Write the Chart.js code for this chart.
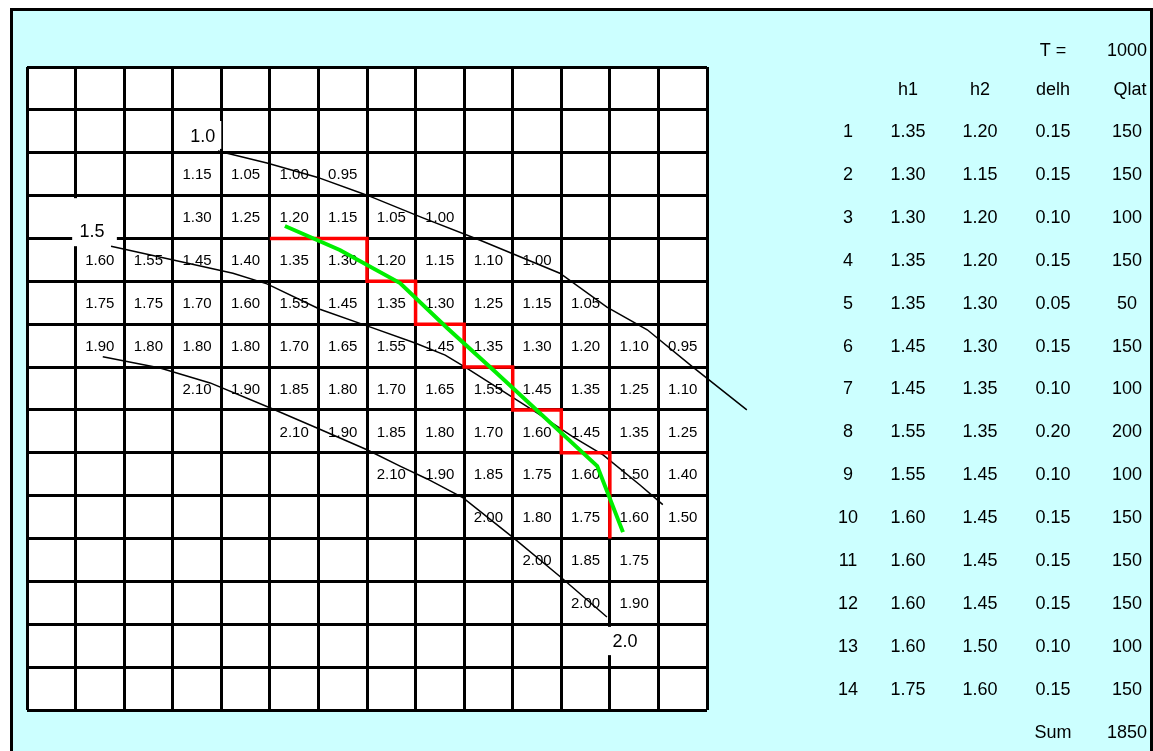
<!DOCTYPE html>
<html>
<head>
<meta charset="utf-8">
<title>Flow net – seepage per segment</title>
<script src="https://cdn.jsdelivr.net/npm/chart.js@4/dist/chart.umd.min.js"></script>
<style>
  html, body { margin: 0; padding: 0; background: #ffffff; }
  #wrap { width: 1153px; height: 751px; }
</style>
</head>
<body>
<div id="wrap"><canvas id="net" width="1153" height="751"></canvas></div>
<script>
// ---- grid size (cells) ----
const COLS = 14;
const ROWS = 15;

// ---- head values written in the cells, one array per grid row ----
const headGrid = [
  [],
  [],
  [null, null, null, 1.15, 1.05, 1.00, 0.95],
  [null, null, null, 1.30, 1.25, 1.20, 1.15, 1.05, 1.00],
  [null, 1.60, 1.55, 1.45, 1.40, 1.35, 1.30, 1.20, 1.15, 1.10, 1.00],
  [null, 1.75, 1.75, 1.70, 1.60, 1.55, 1.45, 1.35, 1.30, 1.25, 1.15, 1.05],
  [null, 1.90, 1.80, 1.80, 1.80, 1.70, 1.65, 1.55, 1.45, 1.35, 1.30, 1.20, 1.10, 0.95],
  [null, null, null, 2.10, 1.90, 1.85, 1.80, 1.70, 1.65, 1.55, 1.45, 1.35, 1.25, 1.10],
  [null, null, null, null, null, 2.10, 1.90, 1.85, 1.80, 1.70, 1.60, 1.45, 1.35, 1.25],
  [null, null, null, null, null, null, null, 2.10, 1.90, 1.85, 1.75, 1.60, 1.50, 1.40],
  [null, null, null, null, null, null, null, null, null, 2.00, 1.80, 1.75, 1.60, 1.50],
  [null, null, null, null, null, null, null, null, null, null, 2.00, 1.85, 1.75],
  [null, null, null, null, null, null, null, null, null, null, null, 2.00, 1.90],
  [],
  []
];

// ---- contour lines (x = column, y = row, in cell units) ----
const contour10 = [
  {x: 3.93, y: 1.96}, {x: 4.94, y: 2.24}, {x: 5.97, y: 2.57}, {x: 7.00, y: 2.99},
  {x: 8.15, y: 3.52}, {x: 9.33, y: 4.04}, {x: 10.97, y: 4.81}, {x: 11.94, y: 5.60},
  {x: 12.77, y: 6.13}, {x: 13.71, y: 7.00}, {x: 14.82, y: 8.00}
];
const contour15 = [
  {x: 1.73, y: 4.18}, {x: 3.29, y: 4.57}, {x: 4.24, y: 4.81}, {x: 4.94, y: 5.06},
  {x: 6.03, y: 5.65}, {x: 7.00, y: 6.04}, {x: 7.99, y: 6.44}, {x: 8.61, y: 6.72},
  {x: 9.02, y: 7.00}, {x: 10.50, y: 8.07}, {x: 11.24, y: 8.63}, {x: 11.86, y: 9.05},
  {x: 12.62, y: 9.75}, {x: 13.09, y: 10.21}
];
const contour20 = [
  {x: 1.56, y: 6.76}, {x: 2.74, y: 7.02}, {x: 3.77, y: 7.37}, {x: 5.00, y: 7.95},
  {x: 5.97, y: 8.42}, {x: 7.00, y: 8.93}, {x: 7.68, y: 9.31}, {x: 8.24, y: 9.61},
  {x: 8.98, y: 10.05}, {x: 9.99, y: 10.96}, {x: 11.01, y: 11.92}, {x: 11.94, y: 12.83}
];
const contourLabels = ['1.0', '1.5', '2.0'];

// ---- stepped boundary along cell edges (red) ----
const stepPath = [
  {x: 5, y: 4}, {x: 7, y: 4}, {x: 7, y: 5}, {x: 8, y: 5}, {x: 8, y: 6},
  {x: 9, y: 6}, {x: 9, y: 7}, {x: 10, y: 7}, {x: 10, y: 8}, {x: 11, y: 8},
  {x: 11, y: 9}, {x: 12, y: 9}, {x: 12, y: 11}
];

// ---- smoothed boundary (green) ----
const smoothPath = [
  {x: 5.31, y: 3.71}, {x: 6.44, y: 4.27}, {x: 7.68, y: 5.04}, {x: 8.65, y: 6.09},
  {x: 9.64, y: 7.11}, {x: 11.74, y: 9.31}, {x: 12.27, y: 10.85}
];

// ---- segment table ----
const T_VALUE = 1000;
const segNo = [1, 2, 3, 4, 5, 6, 7, 8, 9, 10, 11, 12, 13, 14];
const h1 = [1.35, 1.30, 1.30, 1.35, 1.35, 1.45, 1.45, 1.55, 1.55, 1.60, 1.60, 1.60, 1.60, 1.75];
const h2 = [1.20, 1.15, 1.20, 1.20, 1.30, 1.30, 1.35, 1.35, 1.45, 1.45, 1.45, 1.45, 1.50, 1.60];
const delh = [0.15, 0.15, 0.10, 0.15, 0.05, 0.15, 0.10, 0.20, 0.10, 0.15, 0.15, 0.15, 0.10, 0.15];
const qlat = [150, 150, 100, 150, 50, 150, 100, 200, 100, 150, 150, 150, 100, 150];
const qSum = 1850;
const tableHeaders = ['h1', 'h2', 'delh', 'Qlat'];

// ---- drawing styles / layout ----
const FONT = '"Liberation Sans", Arial, Helvetica, sans-serif';
const PANEL_BG = '#ccffff';
const PLOT_BOX = {left: 27, top: 67, right: 707, bottom: 710};
// white boxes behind the contour labels: [x0, y0, x1, y1, textX, textY] in cell units
const labelBoxes = [
  [3.21, 1.26, 4.00, 1.91, 3.62, 1.61],
  [0.93, 3.06, 1.85, 4.18, 1.34, 3.83],
  [11.94, 13.06, 12.72, 13.72, 12.31, 13.39]
];
// table column centres (px) and row baselines
const tableCols = [848, 908, 980, 1053, 1127];

const panelPlugin = {
  id: 'panel',
  beforeDraw(chart) {
    const ctx = chart.ctx;
    const W = chart.width, H = chart.height;
    ctx.save();
    ctx.fillStyle = '#ffffff';
    ctx.fillRect(0, 0, W, H);
    ctx.fillStyle = PANEL_BG;
    ctx.fillRect(10, 8, W - 10, H - 8);
    ctx.strokeStyle = '#000000';
    ctx.lineWidth = 3;
    ctx.beginPath();
    ctx.moveTo(11.5, H + 5);
    ctx.lineTo(11.5, 9.5);
    ctx.lineTo(W - 1.5, 9.5);
    ctx.lineTo(W - 1.5, H + 5);
    ctx.stroke();
    const a = chart.chartArea;
    ctx.fillStyle = '#ffffff';
    ctx.fillRect(a.left, a.top, a.right - a.left, a.bottom - a.top);
    ctx.restore();
  },
  beforeDatasetsDraw(chart) {
    const ctx = chart.ctx;
    const xs = chart.scales.x, ys = chart.scales.y;
    ctx.save();
    // head values in the cells
    ctx.fillStyle = '#000000';
    ctx.font = '15px ' + FONT;
    ctx.textAlign = 'center';
    ctx.textBaseline = 'middle';
    headGrid.forEach((row, r) => {
      row.forEach((v, c) => {
        if (v === null || v === undefined) return;
        ctx.fillText(v.toFixed(2), xs.getPixelForValue(c + 0.5), ys.getPixelForValue(r + 0.5) + 1);
      });
    });
    // contour labels on white boxes
    ctx.font = '18px ' + FONT;
    labelBoxes.forEach((b, i) => {
      const x0 = xs.getPixelForValue(b[0]), x1 = xs.getPixelForValue(b[2]);
      const y0 = ys.getPixelForValue(b[1]), y1 = ys.getPixelForValue(b[3]);
      ctx.fillStyle = '#ffffff';
      ctx.fillRect(x0, y0, x1 - x0, y1 - y0);
      ctx.fillStyle = '#000000';
      ctx.fillText(contourLabels[i], xs.getPixelForValue(b[4]), ys.getPixelForValue(b[5]) + 1);
    });
    ctx.restore();
  },
  afterDraw(chart) {
    const ctx = chart.ctx;
    const ys = chart.scales.y;
    ctx.save();
    ctx.fillStyle = '#000000';
    ctx.font = '18px ' + FONT;
    ctx.textAlign = 'center';
    ctx.textBaseline = 'middle';
    const rowY = (r) => ys.getPixelForValue(r + 0.5) + 1;
    ctx.fillText('T =', tableCols[3], 51);
    ctx.fillText(String(T_VALUE), tableCols[4], 51);
    tableHeaders.forEach((h, i) => ctx.fillText(h, tableCols[i + 1] + (i === 3 ? 3 : 0), 90));
    segNo.forEach((n, i) => {
      const y = rowY(i + 1);
      ctx.fillText(String(n), tableCols[0], y);
      ctx.fillText(h1[i].toFixed(2), tableCols[1], y);
      ctx.fillText(h2[i].toFixed(2), tableCols[2], y);
      ctx.fillText(delh[i].toFixed(2), tableCols[3], y);
      ctx.fillText(String(qlat[i]), tableCols[4], y);
    });
    ctx.fillText('Sum', tableCols[3], 733);
    ctx.fillText(String(qSum), tableCols[4], 733);
    ctx.restore();
  }
};

const lineDs = (data, color, width, order) => ({
  data: data,
  showLine: true,
  borderColor: color,
  backgroundColor: color,
  borderWidth: width,
  pointRadius: 0,
  pointHoverRadius: 0,
  tension: 0,
  fill: false,
  clip: false,
  order: order
});

new Chart(document.getElementById('net'), {
  type: 'scatter',
  data: {
    datasets: [
      lineDs(smoothPath, '#00ee00', 4, 1),
      lineDs(stepPath, '#ff0000', 3.5, 2),
      lineDs(contour10, '#000000', 1.5, 3),
      lineDs(contour15, '#000000', 1.5, 3),
      lineDs(contour20, '#000000', 1.5, 3)
    ]
  },
  options: {
    responsive: false,
    devicePixelRatio: 1,
    animation: false,
    events: [],
    layout: {
      padding: {
        left: PLOT_BOX.left,
        top: PLOT_BOX.top,
        right: 1153 - PLOT_BOX.right,
        bottom: 751 - PLOT_BOX.bottom
      }
    },
    plugins: {
      legend: {display: false},
      tooltip: {enabled: false},
      title: {display: false}
    },
    scales: {
      x: {
        type: 'linear',
        min: 0,
        max: COLS,
        ticks: {display: false, stepSize: 1},
        grid: {color: '#000000', lineWidth: 3, drawTicks: false},
        border: {display: false}
      },
      y: {
        type: 'linear',
        reverse: true,
        min: 0,
        max: ROWS,
        ticks: {display: false, stepSize: 1},
        grid: {color: '#000000', lineWidth: 3, drawTicks: false},
        border: {display: false}
      }
    }
  },
  plugins: [panelPlugin]
});
</script>
</body>
</html>
